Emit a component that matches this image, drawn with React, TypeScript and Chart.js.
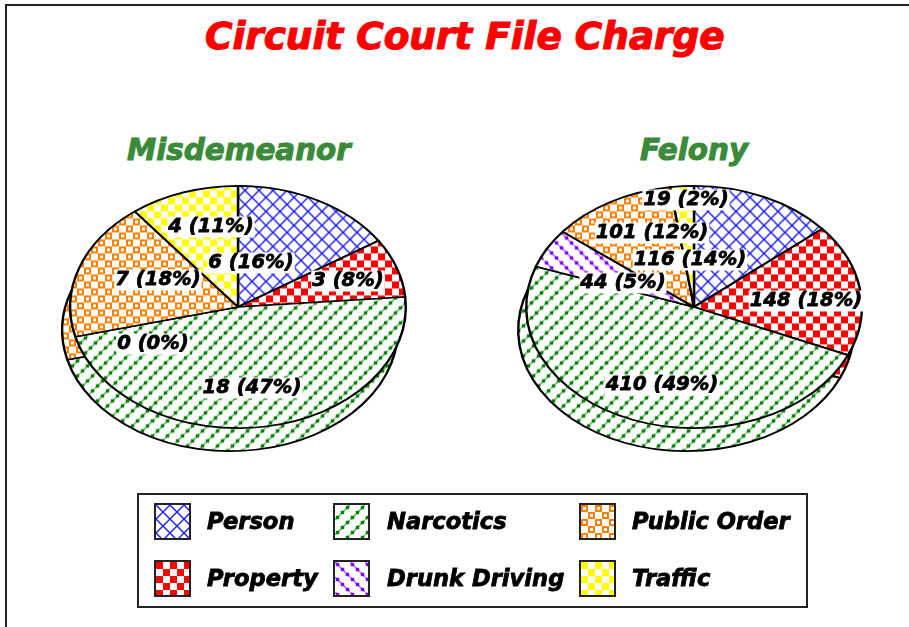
import React, { useEffect, useRef } from "react";
import { Chart, registerables } from "chart.js";

Chart.register(...registerables);

const categories = ["Person", "Property", "Narcotics", "Drunk Driving", "Public Order", "Traffic"];
const misdemeanorValues = [6, 3, 18, 0, 7, 4];
const felonyValues = [116, 148, 410, 44, 101, 19];
const mainTitle = "Circuit Court File Charge";
const misdemeanorTitle = "Misdemeanor";
const felonyTitle = "Felony";
const legendRows = [
  [0, 2, 4],
  [1, 3, 5],
];

// layout constants
const RX = 169;
const RY = 122;
const SQUASH = RY / RX;
const DEPTH_X = -8;
const DEPTH_Y = 23;
const CANVAS = 420;
const CY = 307;
const FONT = '"DejaVu Sans", sans-serif';
const LABEL_FONT = `italic bold 19.6px ${FONT}`;
const misdemeanorLabelAt = [[13, -44], [110, -26], [14, 81], [-85, 37], [-80, -27], [-27, -80]];
const felonyLabelAt = [[-4, -47], [112, -6], [-32, 78], [-71, -24], [-42, -74], [-8, -107]];

type Tile = { size: number; draw: (g: CanvasRenderingContext2D) => void };

function dots(g: CanvasRenderingContext2D, color: string, rising: boolean) {
  g.strokeStyle = color;
  g.fillStyle = color;
  g.globalAlpha = 0.6;
  g.lineWidth = 1.5;
  g.beginPath();
  g.moveTo(-2, rising ? 17 : -2);
  g.lineTo(17, rising ? -2 : 17);
  g.stroke();
  g.globalAlpha = 1;
  for (let i = 0; i < 3; i++) {
    const x = i * 5;
    const y = rising ? 10 - x : x;
    g.fillRect(x + 0.8, y + 0.8, 3.4, 3.4);
  }
}

const tiles: Tile[] = [
  {
    size: 14,
    draw: (g) => {
      g.strokeStyle = "#1a1aff";
      g.lineWidth = 1.4;
      g.beginPath();
      g.moveTo(0, 0);
      g.lineTo(14, 14);
      g.moveTo(14, 0);
      g.lineTo(0, 14);
      g.stroke();
    },
  },
  {
    size: 14,
    draw: (g) => {
      g.fillStyle = "#ff0000";
      g.fillRect(0, 0, 7, 7);
      g.fillRect(7, 7, 7, 7);
    },
  },
  { size: 15, draw: (g) => dots(g, "#008000", true) },
  { size: 15, draw: (g) => dots(g, "#8000ff", false) },
  {
    size: 14,
    draw: (g) => {
      g.strokeStyle = "#ff8000";
      g.lineWidth = 2;
      g.strokeRect(1, 1, 5, 5);
      g.strokeRect(8, 8, 5, 5);
    },
  },
  {
    size: 14,
    draw: (g) => {
      g.fillStyle = "#ffff00";
      g.fillRect(0, 0, 7, 7);
      g.fillRect(7, 7, 7, 7);
    },
  },
];

function tileCanvas(i: number) {
  const c = document.createElement("canvas");
  const s = tiles[i].size;
  c.width = s;
  c.height = s;
  const g = c.getContext("2d")!;
  g.fillStyle = "#fff";
  g.fillRect(0, 0, s, s);
  tiles[i].draw(g);
  return c;
}

function makePattern(ctx: CanvasRenderingContext2D, i: number) {
  const p = ctx.createPattern(tileCanvas(i), "repeat")!;
  // the pie is drawn squashed; keep the pattern's cells square
  p.setTransform(new DOMMatrix().scale(1, 1 / SQUASH));
  return p;
}

const piePlugin = {
  id: "tiltedPie",
  beforeDatasetsDraw(chart: any) {
    const { ctx } = chart;
    const meta = chart.getDatasetMeta(0);
    const cx = chart.width / 2;
    const cy = chart.height / 2;
    const squashed = (dx: number, dy: number) => {
      ctx.save();
      ctx.translate(cx + dx, cy + dy);
      ctx.scale(1, SQUASH);
      ctx.translate(-cx, -cy);
      meta.data.forEach((a: any) => a.draw(ctx));
      ctx.restore();
    };
    squashed(DEPTH_X, DEPTH_Y);
    squashed(0, 0);
    return false;
  },
  afterDraw(chart: any, _args: any, opts: any) {
    const { ctx } = chart;
    const values: number[] = chart.data.datasets[0].data;
    const total = values.reduce((a, b) => a + b, 0);
    const cx = chart.width / 2;
    const cy = chart.height / 2;
    ctx.save();
    ctx.font = LABEL_FONT;
    ctx.textAlign = "center";
    ctx.textBaseline = "middle";
    ctx.lineJoin = "round";
    values.forEach((v, i) => {
      const text = `${v} (${Math.round((v / total) * 100)}%)`;
      const [dx, dy] = opts.at[i];
      const w = ctx.measureText(text).width;
      ctx.fillStyle = "#fff";
      ctx.fillRect(cx + dx - w / 2 - 1, cy + dy - 10.5, w + 2, 21);
      ctx.fillStyle = "#000";
      ctx.strokeStyle = "#000";
      ctx.lineWidth = 0.8;
      ctx.fillText(text, cx + dx, cy + dy);
      ctx.strokeText(text, cx + dx, cy + dy);
    });
    ctx.restore();
  },
};

function Pie({ values, centerX, at }: { values: number[]; centerX: number; at: number[][] }) {
  const ref = useRef<HTMLCanvasElement>(null);
  useEffect(() => {
    const canvas = ref.current!;
    const ctx = canvas.getContext("2d")!;
    const chart = new Chart(ctx, {
      type: "pie",
      data: {
        labels: categories,
        datasets: [
          {
            data: values,
            backgroundColor: categories.map((_, i) => makePattern(ctx, i)),
            borderColor: "#000",
            borderWidth: 2.4,
            borderAlign: "center",
            borderJoinStyle: "round",
          },
        ],
      },
      plugins: [piePlugin],
      options: {
        responsive: false,
        animation: false,
        layout: { padding: (CANVAS - 2 * RX) / 2 },
        plugins: {
          legend: { display: false },
          title: { display: false },
          tooltip: { enabled: false },
          tiltedPie: { at },
        },
      } as any,
    });
    return () => chart.destroy();
  }, []);
  return (
    <canvas
      ref={ref}
      width={CANVAS}
      height={CANVAS}
      style={{ position: "absolute", left: centerX - CANVAS / 2, top: CY - CANVAS / 2, width: CANVAS, height: CANVAS }}
    />
  );
}

function Swatch({ index, x, y }: { index: number; x: number; y: number }) {
  const ref = useRef<HTMLDivElement>(null);
  useEffect(() => {
    ref.current!.style.backgroundImage = `url(${tileCanvas(index).toDataURL()})`;
  }, []);
  return (
    <div
      ref={ref}
      style={{
        position: "absolute",
        left: x,
        top: y,
        width: 33,
        height: 33,
        border: "2px solid #222",
        backgroundColor: "#fff",
      }}
    />
  );
}

const textBase: React.CSSProperties = {
  position: "absolute",
  fontFamily: FONT,
  fontStyle: "italic",
  fontWeight: 700,
  whiteSpace: "nowrap",
  lineHeight: 1,
  transform: "translateY(-50%)",
  WebkitTextStrokeWidth: "0.8px",
};

export default function App() {
  useEffect(() => {
    document.body.style.margin = "0";
    document.body.style.background = "#fff";
  }, []);
  const colX = [154, 333, 579];
  const colTextX = [207, 387, 632];
  const rowY = [503, 560];
  return (
    <div style={{ position: "fixed", left: 0, top: 0, width: 909, height: 627, overflow: "hidden", background: "#fff" }}>
      <div style={{ position: "absolute", left: 5, top: 4, width: 960, height: 680, border: "2px solid #222", boxSizing: "border-box" }} />
      <div style={{ ...textBase, left: 205, top: 37, fontSize: 37.4, color: "#ff0000", WebkitTextStrokeColor: "#ff0000", WebkitTextStrokeWidth: "1.2px" }}>{mainTitle}</div>
      <div style={{ ...textBase, left: 127, top: 151, fontSize: 29.4, color: "#3a8a3a", WebkitTextStrokeColor: "#3a8a3a", WebkitTextStrokeWidth: "1px" }}>{misdemeanorTitle}</div>
      <div style={{ ...textBase, left: 640, top: 151, fontSize: 29.4, color: "#3a8a3a", WebkitTextStrokeColor: "#3a8a3a", WebkitTextStrokeWidth: "1px" }}>{felonyTitle}</div>
      <Pie values={misdemeanorValues} centerX={238} at={misdemeanorLabelAt} />
      <Pie values={felonyValues} centerX={694} at={felonyLabelAt} />
      <div style={{ position: "absolute", left: 137, top: 493, width: 671, height: 115, border: "2px solid #222", boxSizing: "border-box" }} />
      {legendRows.map((row, r) =>
        row.map((cat, c) => (
          <React.Fragment key={cat}>
            <Swatch index={cat} x={colX[c]} y={rowY[r]} />
            <div style={{ ...textBase, left: colTextX[c], top: rowY[r] + 18, fontSize: 22.6, color: "#000", WebkitTextStrokeColor: "#000" }}>{categories[cat]}</div>
          </React.Fragment>
        ))
      )}
    </div>
  );
}
